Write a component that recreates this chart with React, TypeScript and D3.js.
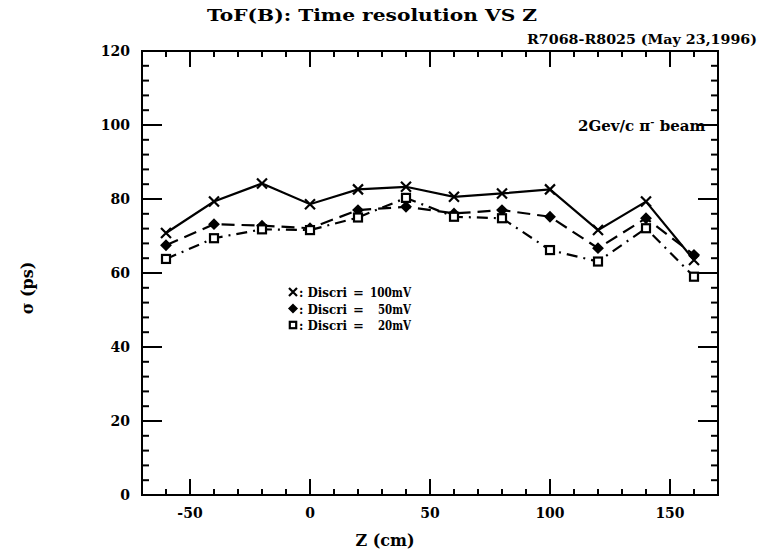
import React from 'react';
import * as d3 from 'd3';

const zPositions = [-60, -40, -20, 0, 20, 40, 60, 80, 100, 120, 140, 160];
const sigma100 = [70.8, 79.3, 84.2, 78.6, 82.6, 83.3, 80.6, 81.5, 82.6, 71.6, 79.3, 63.5];
const sigma50 = [67.5, 73.2, 72.8, 72.1, 77, 77.9, 76.1, 77, 75.2, 66.7, 74.8, 64.9];
const sigma20 = [63.8, 69.4, 71.8, 71.6, 75, 80.3, 75.2, 74.8, 66.2, 63.1, 72.1, 59];
const xTickLabels = [-50, 0, 50, 100, 150];
const yTickLabels = [0, 20, 40, 60, 80, 100, 120];
const legendLabels = ['100mV', '50mV', '20mV'];

const FONT = '"DejaVu Serif", "Liberation Serif", serif';

function Marker({ kind, x, y, size = 1 }: { kind: string; x: number; y: number; size?: number }) {
  if (kind === 'x') {
    const s = 5 * size;
    return (
      <path d={`M${x - s},${y - s}L${x + s},${y + s}M${x - s},${y + s}L${x + s},${y - s}`} stroke="#000" strokeWidth={2.2} fill="none" />
    );
  }
  if (kind === 'd') {
    const s = 4.5 * size;
    return <path d={`M${x},${y - s}L${x + s},${y}L${x},${y + s}L${x - s},${y}Z`} stroke="#000" strokeWidth={2} fill="#000" />;
  }
  const s = 4 * size;
  return <rect x={x - s} y={y - s} width={2 * s} height={2 * s} stroke="#000" strokeWidth={2.2} fill="#fff" />;
}

export default function App() {
  const W = 762, H = 552;
  const x = d3.scaleLinear().domain([-70, 170]).range([142, 718]);
  const y = d3.scaleLinear().domain([0, 120]).range([495, 51]);
  const [x0, x1] = x.range();
  const [y0, y1] = y.range();

  const xMinor = d3.range(-70, 171, 10);
  const yMinor = d3.range(0, 121, 4);

  const series = [
    { vals: sigma100, kind: 'x', dash: 'none' },
    { vals: sigma50, kind: 'd', dash: '13,7' },
    { vals: sigma20, kind: 's', dash: '11,6,2,6' },
  ];

  const line = d3.line<[number, number]>().x(d => x(d[0])).y(d => y(d[1]));

  return (
    <svg width={W} height={H} style={{ position: 'absolute', left: 0, top: 0, background: '#fff' }} fontFamily={FONT}>
      <rect x={0} y={0} width={W} height={H} fill="#fff" />
      <rect x={x0} y={y1} width={x1 - x0} height={y0 - y1} fill="none" stroke="#000" strokeWidth={2} />
      {xMinor.map(v => {
        const major = v % 50 === 0;
        const len = major ? 16 : 6;
        return (
          <g key={'xt' + v}>
            <line x1={x(v)} x2={x(v)} y1={y0} y2={y0 - len} stroke="#000" strokeWidth={2} />
            <line x1={x(v)} x2={x(v)} y1={y1} y2={y1 + len} stroke="#000" strokeWidth={2} />
          </g>
        );
      })}
      {yMinor.map(v => {
        const major = v % 20 === 0;
        const len = major ? 20 : 7;
        return (
          <g key={'yt' + v}>
            <line x1={x0} x2={x0 + len} y1={y(v)} y2={y(v)} stroke="#000" strokeWidth={2} />
            <line x1={x1} x2={x1 - len} y1={y(v)} y2={y(v)} stroke="#000" strokeWidth={2} />
          </g>
        );
      })}
      {xTickLabels.map(v => (
        <text key={'xl' + v} x={x(v)} y={518} textAnchor="middle" fontSize={14} fontWeight="bold">
          {v}
        </text>
      ))}
      {yTickLabels.map(v => (
        <text key={'yl' + v} x={130} y={y(v) + 5} textAnchor="end" fontSize={14} fontWeight="bold">
          {v}
        </text>
      ))}
      <text x={385} y={546} textAnchor="middle" fontSize={16} fontWeight="bold">Z (cm)</text>
      <text transform={`translate(33,288) rotate(-90)`} textAnchor="middle" fontSize={16} fontWeight="bold">σ (ps)</text>
      <text x={207} y={21} fontSize={17} fontWeight="bold" textLength={330} lengthAdjust="spacingAndGlyphs">ToF(B): Time resolution VS Z</text>
      <text x={757} y={44} textAnchor="end" fontSize={12} fontWeight="bold" textLength={230} lengthAdjust="spacingAndGlyphs">R7068-R8025  (May 23,1996)</text>
      <text x={578} y={131} fontSize={15} fontWeight="bold">
        2Gev/c π<tspan dy={-6} fontSize={10}>-</tspan><tspan dy={6}> beam</tspan>
      </text>
      {series.map((s, i) => {
        const pts: [number, number][] = zPositions.map((z, j) => [z, s.vals[j]]);
        return (
          <g key={'s' + i}>
            <path d={line(pts) || ''} fill="none" stroke="#000" strokeWidth={2.2} strokeDasharray={s.dash} />
            {pts.map((p, j) => (
              <Marker key={j} kind={s.kind} x={x(p[0])} y={y(p[1])} />
            ))}
          </g>
        );
      })}
      {series.map((s, i) => {
        const ly = 293 + i * 16.5;
        return (
          <g key={'lg' + i}>
            <Marker kind={s.kind} x={293} y={ly - 1} size={0.8} />
            <text x={299} y={ly + 4} fontSize={13} fontWeight="bold" textLength={48} lengthAdjust="spacingAndGlyphs">: Discri</text>
            <text x={353} y={ly + 4} fontSize={13} fontWeight="bold">=</text>
            <text x={411} y={ly + 4} textAnchor="end" fontSize={13} fontWeight="bold" textLength={i === 0 ? 41 : 33} lengthAdjust="spacingAndGlyphs">{legendLabels[i]}</text>
          </g>
        );
      })}
    </svg>
  );
}
